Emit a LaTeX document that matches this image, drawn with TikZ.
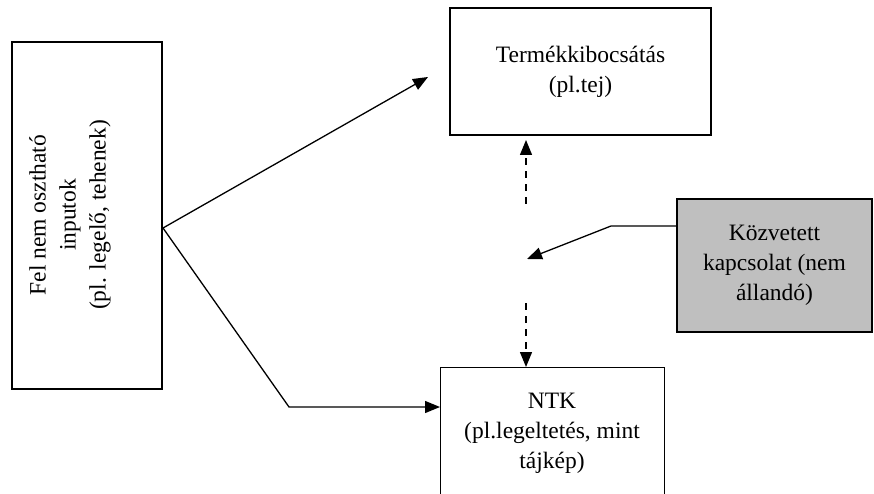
\documentclass[tikz,border=0pt]{standalone}
\usepackage{fontspec}
\setmainfont{Liberation Serif}
\usetikzlibrary{arrows.meta}
\begin{document}
\begin{tikzpicture}[x=1pt,y=-1pt,
  box/.style={draw, line width=1.4pt, rectangle, inner sep=0pt, align=center, font=\fontsize{23.5}{30}\selectfont},
  txt/.style={align=center, font=\fontsize{23.5}{30}\selectfont, inner sep=0pt},
  conn/.style={line width=1.3pt, -{Triangle[length=15pt,width=12pt]}},
  dconn/.style={conn, dash pattern=on 7pt off 6pt}]
\clip (0,0) rectangle (874,494);
\fill[white] (0,0) rectangle (874,494);
% boxes
\node[box, minimum width=150pt, minimum height=347pt] (inp) at (87,215.5) {};
\node[txt, rotate=90] (inpt) at (70,215) {Fel nem osztható\\inputok\\(pl. legelő, tehenek)};
\node[box, minimum width=261pt, minimum height=127pt] (out) at (580.5,71.5) {Termékkibocsátás\\(pl.tej)};
\node[box, fill=black!25, minimum width=195pt, minimum height=133pt] (ind) at (774.5,265.5) {Közvetett\\kapcsolat (nem\\állandó)};
\node[box, minimum width=224pt, minimum height=160pt, anchor=north west] (ntk) at (440,367) {};
\node[txt] (ntkt) at (552,433) {NTK\\(pl.legeltetés, mint\\tájkép)};
% connectors
\coordinate (br) at (163,228);
\coordinate (upTip) at (428,77);
\draw[conn] (br) -- (upTip);
\coordinate (kink) at (289,407);
\draw[conn] (br) -- (kink) -- (kink -| ntk.west);
\coordinate (dTop) at (526,204);
\coordinate (dTopTip) at (526,140);
\draw[dconn] (dTop) -- (dTopTip);
\coordinate (dBot) at (526,303);
\draw[dconn] (dBot) -- (dBot |- ntk.north);
\coordinate (gk) at (611,226);
\coordinate (gTip) at (527,259);
\draw[conn] (gk -| ind.west) -- (gk) -- (gTip);
\end{tikzpicture}
\end{document}
